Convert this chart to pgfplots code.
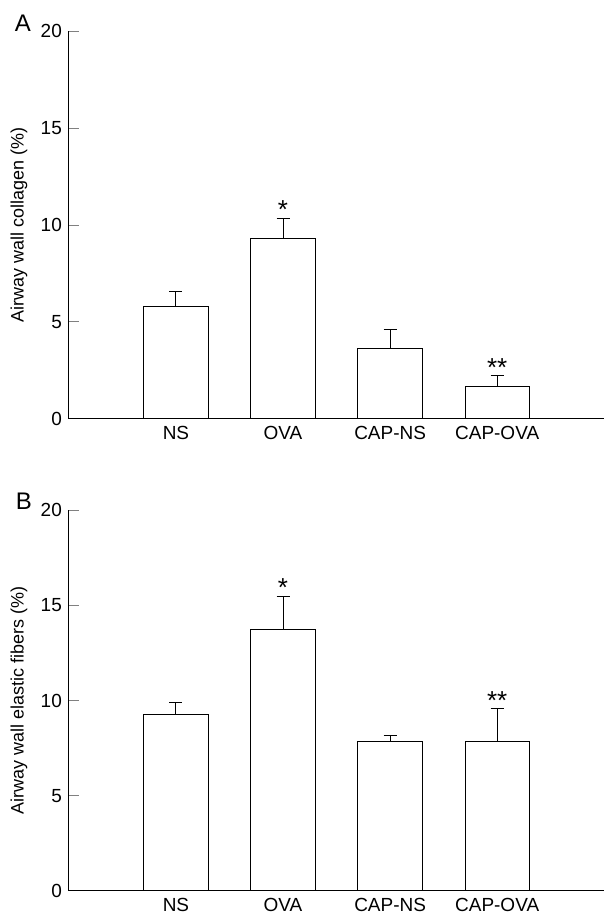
\documentclass[border=0pt]{standalone}
\usepackage{pgfplots}
\pgfplotsset{compat=1.18}
\usepackage{fontspec}
\setmainfont{Liberation Sans}

\pgfplotsset{
  panel/.style={
    scale only axis, width=268pt,
    xmin=-1, xmax=4, ymin=0, ymax=20,
    axis x line*=bottom, axis y line*=left,
    axis line style={line width=0.5pt},
    xtick={0,1,2,3}, xticklabels={NS,OVA,CAP-NS,CAP-OVA},
    x tick style={draw=none},
    ytick={0,5,10,15,20}, ytick pos=left,
    y tick style={line width=0.5pt}, major tick length=5pt,
    tick label style={font=\fontsize{9.5}{10}\selectfont},
    /pgf/number format/assume math mode=true,
    label style={font=\fontsize{9}{10}\selectfont},
    ylabel style={at={(axis description cs:-0.0933,0.5)}, anchor=center},
  },
  bars/.style={
    ybar, bar width=0.6, bar shift=0pt, fill=white, draw=black, line width=0.5pt,
    error bars/.cd, y dir=plus, y explicit,
    error bar style={line width=0.5pt},
    error mark=|,
    error mark options={mark size=3.25pt, line width=0.5pt},
  },
  stars/.style={
    draw=none, mark=none, nodes near coords, point meta=explicit symbolic,
    nodes near coords style={anchor=south, inner sep=0pt, yshift=-0.5pt,
      font=\fontsize{13}{14}\selectfont},
  },
}

\begin{document}
\begin{tikzpicture}
\path (0,0) rectangle (302.5pt,-459pt);

% panel A
\begin{axis}[panel, height=194pt, at={(34.5pt,-209.65pt)}, anchor=south west,
  ylabel={Airway wall collagen (\%)}]
\addplot[bars] coordinates {
  (0,5.79) +- (0,0.79)
  (1,9.28) +- (0,1.08)
  (2,3.62) +- (0,1.00)
  (3,1.65) +- (0,0.58)
};
\addplot[stars] coordinates {(1,10.36) [*] (3,2.23) [**]};
\end{axis}

% panel B
\begin{axis}[panel, height=190.5pt, at={(34.5pt,-446pt)}, anchor=south west,
  ylabel={Airway wall elastic fibers (\%)}]
\addplot[bars] coordinates {
  (0,9.29) +- (0,0.61)
  (1,13.75) +- (0,1.74)
  (2,7.87) +- (0,0.27)
  (3,7.87) +- (0,1.70)
};
\addplot[stars] coordinates {(1,15.49) [*] (3,9.57) [**]};
\end{axis}

\node at (11.5pt,-11.5pt) {\fontsize{12}{13}\selectfont A};
\node at (12pt,-251pt) {\fontsize{12}{13}\selectfont B};
\end{tikzpicture}
\end{document}
